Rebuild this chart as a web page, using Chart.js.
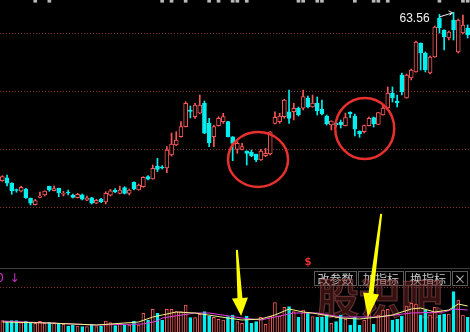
<!DOCTYPE html>
<html>
<head>
<meta charset="utf-8">
<script src="https://cdn.jsdelivr.net/npm/chart.js@4.4.0/dist/chart.umd.min.js"></script>
<style>
  html, body { margin: 0; padding: 0; background: #000; }
  canvas { display: block; }
</style>
</head>
<body>
<canvas id="klineChart" width="470" height="332"></canvas>
<script>
// daily prices
const open = [
  34.54, 35.05, 34.09, 33.02, 32.71, 33.10, 31.50, 30.40, 31.67, 32.07,
  33.57, 32.81, 33.23, 32.20, 32.59, 32.07, 31.60, 32.12, 31.16, 31.60,
  30.64, 31.38, 30.86, 32.02, 32.88, 32.36, 33.33, 32.36, 34.26, 32.93,
  33.50, 35.23, 34.83, 37.07, 36.90, 36.72, 38.97, 40.69, 42.12, 43.85,
  46.72, 45.57, 46.16, 47.88, 44.43, 42.12, 44.02, 44.71, 44.71, 42.12,
  39.95, 39.95, 39.66, 39.43, 39.09, 38.10, 38.85, 39.14, 44.43, 44.71,
  45.57, 46.43, 46.43, 47.02, 47.02, 48.79, 47.24, 47.93, 46.90, 45.69,
  44.14, 44.48, 44.66, 44.02, 46.38, 45.69, 43.10, 42.98, 44.02, 45.40,
  44.26, 45.86, 47.07, 49.66, 48.28, 52.76, 48.79, 52.24, 53.28, 58.28,
  56.55, 53.10, 55.86, 62.59, 60.52, 59.14, 62.24, 56.72, 60.00, 60.86
];
const high = [
  35.40, 35.52, 34.19, 33.10, 33.62, 33.23, 31.55, 31.33, 32.59, 32.80,
  33.60, 33.67, 33.25, 32.71, 32.93, 32.24, 32.36, 32.24, 31.90, 31.67,
  31.33, 31.50, 32.64, 33.05, 33.16, 33.62, 33.50, 33.10, 34.36, 33.97,
  35.23, 35.40, 37.24, 38.40, 37.16, 40.40, 42.76, 42.98, 44.71, 48.16,
  47.41, 47.88, 49.31, 48.28, 45.29, 44.14, 45.57, 46.16, 44.78, 42.15,
  41.26, 40.98, 39.70, 39.83, 39.12, 39.95, 40.12, 43.02, 46.43, 46.16,
  48.57, 50.17, 47.88, 47.24, 50.17, 49.14, 49.31, 48.97, 48.45, 45.86,
  44.86, 44.66, 45.00, 46.21, 46.43, 46.03, 43.12, 44.14, 45.52, 45.52,
  46.30, 47.59, 50.69, 50.69, 49.31, 53.10, 52.93, 53.79, 58.62, 58.30,
  56.72, 56.03, 61.21, 63.20, 60.55, 60.34, 63.56, 62.41, 63.10, 61.38
];
const low = [
  34.43, 33.62, 32.19, 32.54, 32.59, 31.50, 30.35, 30.35, 31.55, 31.90,
  32.71, 32.78, 31.78, 31.90, 32.07, 31.55, 31.55, 31.21, 31.09, 30.52,
  30.57, 30.74, 30.52, 31.90, 32.47, 32.24, 32.24, 32.07, 32.93, 32.90,
  33.40, 34.66, 34.78, 36.09, 36.55, 35.91, 38.79, 40.60, 42.05, 43.80,
  45.35, 45.29, 46.10, 42.65, 40.40, 40.40, 43.95, 44.43, 42.08, 37.98,
  39.26, 39.83, 37.24, 38.67, 37.81, 38.05, 38.67, 38.97, 44.31, 44.43,
  45.29, 44.43, 45.00, 45.69, 46.72, 47.07, 47.20, 45.86, 45.86, 44.14,
  43.28, 43.79, 43.62, 43.97, 45.40, 42.24, 42.02, 42.76, 43.97, 43.79,
  44.22, 45.83, 47.03, 48.10, 47.24, 49.31, 48.75, 51.90, 53.25, 53.62,
  53.28, 52.93, 55.82, 60.00, 57.07, 58.79, 58.79, 56.55, 59.83, 59.14
];
const close = [
  35.23, 34.09, 32.76, 32.85, 33.40, 31.60, 30.64, 31.09, 31.90, 32.76,
  32.93, 33.16, 32.47, 32.35, 32.42, 31.67, 32.19, 31.33, 31.60, 30.64,
  31.16, 30.91, 32.36, 32.81, 32.59, 32.93, 32.36, 32.93, 33.10, 33.79,
  35.12, 34.78, 36.67, 36.50, 36.72, 39.83, 40.86, 41.55, 43.85, 47.88,
  46.47, 47.59, 47.59, 42.71, 41.09, 43.85, 45.29, 45.57, 42.12, 40.98,
  40.98, 40.40, 39.26, 38.85, 38.10, 39.66, 39.26, 42.98, 45.47, 45.69,
  48.45, 45.29, 47.02, 45.86, 49.02, 47.24, 47.93, 46.55, 46.03, 44.31,
  44.83, 44.14, 44.14, 45.40, 46.03, 43.40, 42.59, 44.02, 45.29, 44.31,
  46.26, 47.07, 49.66, 48.79, 47.93, 49.83, 52.76, 53.62, 58.45, 56.55,
  53.62, 55.86, 61.03, 60.86, 59.31, 60.17, 60.52, 62.24, 61.38, 59.66
];
const volume = [
  19.3, 18.3, 19.3, 19.3, 17.3, 19.0, 17.7, 16.7, 18.7, 16.7,
  17.7, 17.3, 16.7, 15.7, 14.0, 15.0, 14.0, 13.3, 13.3, 15.7,
  13.3, 14.0, 19.0, 17.3, 14.3, 16.7, 15.0, 15.0, 19.0, 15.0,
  26.7, 20.0, 30.7, 26.7, 20.0, 30.7, 30.7, 28.3, 28.3, 35.0,
  22.3, 22.3, 25.7, 28.3, 24.0, 22.7, 20.7, 20.0, 23.3, 25.0,
  18.3, 16.7, 24.0, 16.7, 18.3, 22.7, 15.7, 24.0, 37.3, 24.0,
  32.7, 33.3, 28.3, 22.7, 30.0, 26.7, 23.3, 22.7, 22.7, 25.0,
  16.7, 18.3, 25.0, 20.7, 15.0, 22.7, 15.0, 20.0, 27.3, 15.7,
  25.0, 30.0, 30.7, 20.0, 20.7, 24.0, 34.0, 36.7, 36.0, 25.0,
  30.0, 25.0, 32.7, 25.0, 26.0, 26.0, 48.3, 40.0, 25.0, 22.7
];
// volume averages, [day index, value] read at a few places
const ma5Points = [
  [0, 18], [10, 17], [20, 15], [29, 18], [32, 23], [34, 25], [37, 28], [41, 27],
  [48, 22], [51, 20], [55, 21], [58, 25], [61, 31], [64, 28], [66, 27], [72, 22],
  [76, 21], [80, 23], [83, 25], [87, 31], [89, 32], [92, 28], [95, 30], [97, 36], [99, 34]
];
const ma10Points = [
  [0, 19], [10, 17], [20, 15], [30, 16], [33, 19], [34, 22], [41, 27], [44, 27],
  [51, 22], [55, 20], [58, 23], [62, 27], [67, 27], [72, 23], [80, 23], [87, 27],
  [94, 28], [96, 31], [99, 30]
];
// days where the cut-off panel above still shows a mark at the top edge
const topMarkDays = [7, 10, 34, 36, 39, 44, 46, 49, 50, 52, 63, 64, 67, 68, 75, 79, 80, 82, 93, 98, 99];
const priceTicks = [60, 50, 40, 30];
const volumeTicks = [53];
const panelSplit = 72;
const buttonLabels = ["改参数", "加指标", "换指标", "×"];

const labels = open.map((_, i) => `D${i + 1}`);

const RED = "#f85858";
const CYAN = "#00f0f0";
const GRID_COLOR = "#7f3535";

const isUp = (i) => close[i] >= open[i];
const upColor = (ctx) => (isUp(ctx.dataIndex) ? RED : CYAN);
const bodyFill = (ctx) => (isUp(ctx.dataIndex) ? "#000" : CYAN);

const toLine = (points) => {
  const arr = labels.map(() => null);
  points.forEach(([i, v]) => { arr[i] = v; });
  return arr;
};

// circles and arrows are placed in data units: [day index, price]
const circles = [
  { index: 54.4, price: 38.19, rx: 30, ry: 27.5 },
  { index: 77.1, price: 43.53, rx: 29.5, ry: 30.5 },
];
const arrows = [
  { from: [49.9, 22.6], to: [50.8, 11.2], head: 18 },
  { from: [80.6, 28.8], to: [77.8, 11.0], head: 24 },
];

const drawArrow = (ctx, x1, y1, x2, y2, headLen) => {
  const len = Math.hypot(x2 - x1, y2 - y1);
  const ux = (x2 - x1) / len;
  const uy = (y2 - y1) / len;
  const nx = -uy;
  const ny = ux;
  const kx = x2 - ux * headLen;
  const ky = y2 - uy * headLen;
  ctx.beginPath();
  ctx.moveTo(x1 + nx * 1, y1 + ny * 1);
  ctx.lineTo(kx + nx * 2.5, ky + ny * 2.5);
  ctx.lineTo(kx + nx * 8, ky + ny * 8);
  ctx.lineTo(x2, y2);
  ctx.lineTo(kx - nx * 8, ky - ny * 8);
  ctx.lineTo(kx - nx * 2.5, ky - ny * 2.5);
  ctx.lineTo(x1 - nx * 1, y1 - ny * 1);
  ctx.closePath();
  ctx.fill();
};

const overlay = {
  id: "overlay",
  beforeDatasetsDraw(chart) {
    const { ctx, chartArea, scales } = chart;
    ctx.save();
    ctx.lineWidth = 1;
    ctx.strokeStyle = GRID_COLOR;
    ctx.setLineDash([1, 2]);
    const hline = (y) => {
      ctx.beginPath();
      ctx.moveTo(chartArea.left, y);
      ctx.lineTo(chartArea.right, y);
      ctx.stroke();
    };
    priceTicks.forEach((v) => hline(Math.round(scales.y.getPixelForValue(v)) + 0.5));
    volumeTicks.forEach((v) => hline(Math.round(scales.yv.getPixelForValue(v)) + 0.5));
    ctx.setLineDash([]);
    ctx.strokeStyle = "#3c3c3c";
    const splitY = Math.round(scales.yv.getPixelForValue(panelSplit)) + 0.5;
    hline(splitY);

    // volume panel header
    ctx.fillStyle = "#d030d0";
    ctx.font = "12px 'DejaVu Sans'";
    ctx.textAlign = "right";
    ctx.textBaseline = "middle";
    ctx.fillText("0", chartArea.left + 4, splitY + 10);
    ctx.textAlign = "center";
    ctx.fillText("↓", chartArea.left + 14.5, splitY + 10);

    ctx.fillStyle = "#e83030";
    ctx.font = "bold 10px 'DejaVu Sans'";
    ctx.fillText("$", chartArea.left + 308, splitY - 6);

    // indicator buttons
    const widths = [43, 46, 46, 16];
    let bx = chartArea.right - 156;
    ctx.font = "12px 'Noto Sans CJK SC'";
    buttonLabels.forEach((text, k) => {
      ctx.strokeStyle = "#5a5a5a";
      ctx.strokeRect(bx + 0.5, splitY + 3, widths[k] - 1, 14);
      ctx.fillStyle = "#c8c8c8";
      ctx.fillText(text, bx + widths[k] / 2, splitY + 10.5);
      bx += widths[k] + 1;
    });

    // watermark
    ctx.font = "bold 42px 'Noto Sans CJK SC'";
    ctx.textAlign = "left";
    ctx.textBaseline = "alphabetic";
    ctx.fillStyle = "rgba(115, 38, 38, 0.45)";
    ctx.strokeStyle = "rgba(165, 85, 85, 0.5)";
    ctx.lineWidth = 1.2;
    ctx.fillText("股识吧", chartArea.right - 153, splitY + 45);
    ctx.strokeText("股识吧", chartArea.right - 153, splitY + 45);
    ctx.restore();
  },
  afterDatasetsDraw(chart) {
    const { ctx, scales } = chart;
    const px = (i) => scales.x.getPixelForValue(i);
    const py = (v) => scales.y.getPixelForValue(v);
    ctx.save();

    // highest price label
    const top = high.indexOf(Math.max(...high));
    const hx = px(top);
    const hy = py(high[top]);
    ctx.fillStyle = "#f0f0f0";
    ctx.font = "12px 'Liberation Sans'";
    ctx.textAlign = "right";
    ctx.textBaseline = "middle";
    ctx.fillText(high[top].toFixed(2), hx - 24, hy + 6.5);
    ctx.strokeStyle = "#f0f0f0";
    ctx.lineWidth = 1;
    ctx.beginPath();
    ctx.moveTo(hx - 14, hy + 4.5);
    ctx.lineTo(hx - 1, hy + 0.5);
    ctx.moveTo(hx - 1, hy + 0.5);
    ctx.lineTo(hx - 5, hy - 1.5);
    ctx.moveTo(hx - 1, hy + 0.5);
    ctx.lineTo(hx - 4, hy + 3);
    ctx.stroke();

    // red circles
    ctx.strokeStyle = "#e8302c";
    ctx.lineWidth = 2.5;
    circles.forEach((c) => {
      ctx.beginPath();
      ctx.ellipse(px(c.index), py(c.price), c.rx, c.ry, 0, 0, Math.PI * 2);
      ctx.stroke();
    });

    // yellow arrows
    ctx.fillStyle = "#ffff00";
    arrows.forEach((a) => {
      drawArrow(ctx, px(a.from[0]), py(a.from[1]), px(a.to[0]), py(a.to[1]), a.head);
    });
    ctx.restore();
  },
};

new Chart(document.getElementById("klineChart"), {
  type: "bar",
  data: {
    labels,
    datasets: [
      {
        label: "body",
        data: open.map((o, i) => [o, close[i]]),
        backgroundColor: bodyFill,
        borderColor: upColor,
        borderWidth: 1,
        borderSkipped: false,
        minBarLength: 1,
        barThickness: 4,
        grouped: false,
        yAxisID: "y",
        order: 1,
      },
      {
        label: "wick",
        data: low.map((l, i) => [l, high[i]]),
        backgroundColor: upColor,
        borderWidth: 0,
        barThickness: 1,
        grouped: false,
        yAxisID: "y",
        order: 2,
      },
      {
        label: "upper panel",
        data: labels.map((_, i) => (topMarkDays.includes(i) ? [65.3, 65.69] : null)),
        backgroundColor: "#b8b8b8",
        borderWidth: 0,
        barThickness: 3,
        grouped: false,
        yAxisID: "y",
        order: 2,
      },
      {
        type: "line",
        label: "MA5",
        data: toLine(ma5Points),
        borderColor: "#f4f488",
        borderWidth: 1,
        pointRadius: 0,
        spanGaps: true,
        yAxisID: "yv",
        order: 3,
      },
      {
        type: "line",
        label: "MA10",
        data: toLine(ma10Points),
        borderColor: "#e040e0",
        borderWidth: 1,
        pointRadius: 0,
        spanGaps: true,
        yAxisID: "yv",
        order: 3,
      },
      {
        label: "volume",
        data: volume,
        backgroundColor: bodyFill,
        borderColor: upColor,
        borderWidth: 1,
        barThickness: 3,
        grouped: false,
        yAxisID: "yv",
        order: 4,
      },
    ],
  },
  options: {
    responsive: false,
    animation: false,
    devicePixelRatio: 1,
    layout: { padding: 0 },
    plugins: {
      legend: { display: false },
      tooltip: { enabled: false },
    },
    scales: {
      x: { display: false, offset: true },
      y: { display: false, min: 8.45, max: 65.69 },
      yv: { display: false, position: "right", min: 8, max: 340 },
    },
  },
  plugins: [overlay],
});
</script>
</body>
</html>
